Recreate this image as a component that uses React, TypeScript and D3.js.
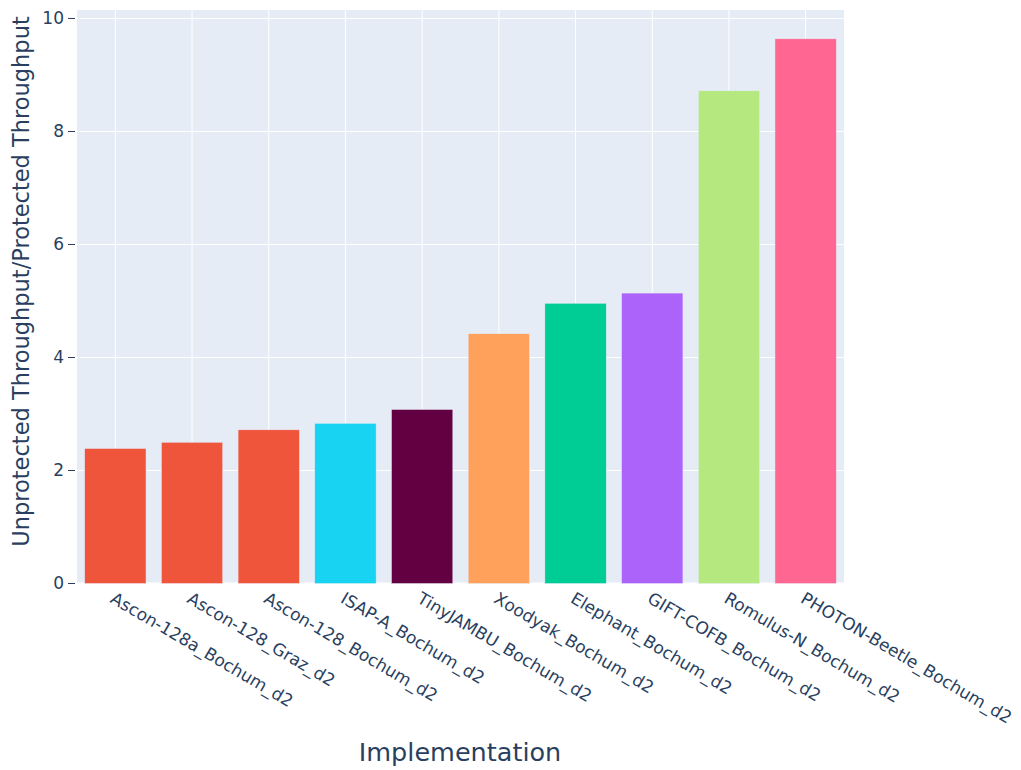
import React from "react";
import * as d3 from "d3";

const categories = [
  "Ascon-128a_Bochum_d2",
  "Ascon-128_Graz_d2",
  "Ascon-128_Bochum_d2",
  "ISAP-A_Bochum_d2",
  "TinyJAMBU_Bochum_d2",
  "Xoodyak_Bochum_d2",
  "Elephant_Bochum_d2",
  "GIFT-COFB_Bochum_d2",
  "Romulus-N_Bochum_d2",
  "PHOTON-Beetle_Bochum_d2",
];
const values = [2.39, 2.5, 2.72, 2.835, 3.08, 4.42, 4.96, 5.14, 8.72, 9.64];
const colors = [
  "#EF553B", "#EF553B", "#EF553B", "#19D3F3", "#620042",
  "#FFA15A", "#00CC96", "#AB63FA", "#B6E880", "#FF6692",
];
const yTicks = [0, 2, 4, 6, 8, 10];

const W = 1021, H = 770;
const L = 77, R = 844, T = 10, B = 583.5;
const FONT = '"DejaVu Sans", verdana, arial, sans-serif';
const TXT = "#2a3f5f";

export default function App() {
  const x = d3.scaleBand<string>().domain(categories).range([L, R]).paddingInner(0.2).paddingOuter(0.1);
  const y = d3.scaleLinear().domain([0, 10.15]).range([B, T]);
  return (
    <svg width={W} height={H} style={{ position: "absolute", left: 0, top: 0 }} fontFamily={FONT}>
      <rect x={0} y={0} width={W} height={H} fill="#fff" />
      <rect x={L} y={T} width={R - L} height={B - T} fill="#E5ECF6" />
      {categories.map((c) => (
        <line key={c} x1={x(c)! + x.bandwidth() / 2} x2={x(c)! + x.bandwidth() / 2} y1={T} y2={B} stroke="#fff" strokeWidth={1} />
      ))}
      {yTicks.map((t) => (
        <g key={t}>
          <line x1={L} x2={R} y1={y(t)} y2={y(t)} stroke="#fff" strokeWidth={t === 0 ? 2 : 1} />
          <line x1={L - 9} x2={L - 2} y1={y(t)} y2={y(t)} stroke={TXT} strokeWidth={1} />
          <text x={L - 13} y={y(t)} dy="0.35em" textAnchor="end" fontSize={17} fill={TXT}>{t}</text>
        </g>
      ))}
      {categories.map((c, i) => (
        <rect key={c} x={x(c)} y={y(values[i])} width={x.bandwidth()} height={B - y(values[i])}
          fill={colors[i]} stroke="#E5ECF6" strokeWidth={0.5} />
      ))}
      {categories.map((c) => {
        const cx = x(c)! + x.bandwidth() / 2;
        const cy = B + 8;
        return (
          <text key={c} transform={`translate(${cx},${cy}) rotate(30.5)`} fontSize={17} fill={TXT} dy="0.7em" textAnchor="start">{c}</text>
        );
      })}
      <text x={460} y={761} textAnchor="middle" fontSize={25.5} fill={TXT}>Implementation</text>
      <text transform={`translate(29,281.5) rotate(-90)`} textAnchor="middle" fontSize={22.5} fill={TXT}>Unprotected Throughput/Protected Throughput</text>
    </svg>
  );
}
